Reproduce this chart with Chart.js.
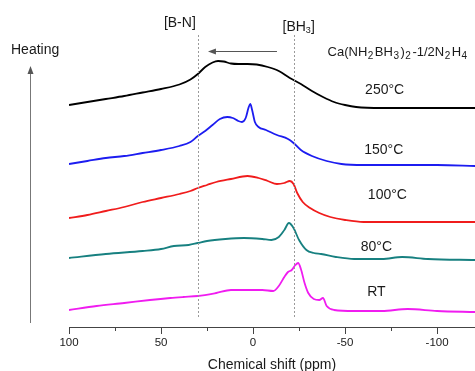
<!DOCTYPE html>
<html>
<head>
<meta charset="utf-8">
<script src="https://cdn.jsdelivr.net/npm/chart.js@4.4.0/dist/chart.umd.min.js"></script>
<style>
  html, body { margin: 0; padding: 0; background: #fff; }
</style>
</head>
<body>
<canvas id="nmrChart" width="475" height="371"></canvas>
<script>
// chemical shift (ppm) sample points and intensities (arbitrary units, stacked)
const shift250 = [100, 90, 80, 70, 60, 50, 40, 34, 30, 26, 22, 19, 16, 12, 8, 3, -2, -8, -14, -20, -26, -32, -38, -44, -50, -56, -70, -90, -121];
const int250   = [222, 225, 228, 231, 234.5, 238, 242.5, 247.5, 253, 260, 264.5, 266, 265.5, 263.5, 263, 263, 262.5, 260, 256, 249, 243, 236, 230, 225, 222, 220, 219, 219, 219];

const shift150 = [100, 90, 80, 70, 60, 50, 40, 34, 30, 26, 22, 18, 14, 11, 8, 6, 4, 2.5, 1.5, 0.5, -1, -3, -7, -13, -19, -22, -26, -32, -40, -48, -60, -80, -100, -121];
const int150   = [163, 166, 169, 171, 174, 177, 181, 185, 191, 196, 202, 208, 210, 209, 206, 205, 209, 219, 223, 217, 205, 200, 197, 192, 188, 184, 177, 171, 166, 163, 162, 162, 162, 161];

const shift100 = [100, 90, 80, 70, 60, 50, 40, 34, 30, 25, 20, 12, 3, -3, -8, -13, -17, -20, -22, -24, -27, -31, -36, -42, -50, -60, -121];
const int100   = [109, 112, 116, 120, 125, 129, 133, 136, 139, 142, 145, 148, 151, 149, 146, 143, 144, 146, 143, 134, 125, 119, 114, 110, 107, 105, 105];

const shift80 = [100, 80, 60, 50, 43, 35, 30, 25, 15, 5, -5, -10, -14, -17, -19.5, -22, -25, -29, -33, -37, -45, -55, -70, -81, -95, -121];
const int80   = [69, 73, 76, 78, 81, 82, 84, 86, 88, 89, 88, 87, 90, 97, 104, 99, 87, 77, 74, 73, 70, 68, 68, 70, 68, 67];

const shiftRT = [100, 85, 70, 56, 45, 38, 30, 20, 12, 5, -5, -11, -14, -17, -19, -21, -23, -24.5, -26, -28, -30, -33, -36, -38, -40, -44, -55, -70, -84, -100, -121];
const intRT   = [17, 21, 24, 27, 29, 30, 31, 34, 37, 37, 37, 36, 41, 50, 55, 57, 62, 64, 58, 44, 34, 28, 27, 29, 21, 17, 16, 16, 18, 16, 15];

const seriesNames  = ['250°C', '150°C', '100°C', '80°C', 'RT'];
const seriesColors = ['#000000', '#1c1cf0', '#f01c1c', '#178080', '#f01cf0'];
// where each temperature label sits (ppm, intensity)
const labelShift = [-71.5, -71, -73, -67, -67];
const labelInt   = [237, 177, 132, 80, 35];

const xTicks = [100, 75, 50, 25, 0, -25, -50, -75, -100];
const dashedShifts = [30, -22];
const arrowShifts = [-13, 24.5];

const shifts = [shift250, shift150, shift100, shift80, shiftRT];
const ints = [int250, int150, int100, int80, intRT];

const FONT = '"Liberation Sans", Arial, sans-serif';

const datasets = seriesNames.map((name, i) => ({
    label: name,
    data: shifts[i].map((x, j) => ({ x: x, y: ints[i][j] })),
    borderColor: seriesColors[i],
    borderWidth: 1.8,
    pointRadius: 0,
    cubicInterpolationMode: 'monotone',
    fill: false
}));

function drawSubText(ctx, parts, x, y) {
    // parts: [text, isSub]
    let cx = x;
    parts.forEach(p => {
        if (p[1]) {
            ctx.font = '10px ' + FONT;
            cx += 0.5;
            ctx.fillText(p[0], cx, y + 4);
            cx += ctx.measureText(p[0]).width + 1.5;
        } else {
            ctx.font = '13px ' + FONT;
            ctx.fillText(p[0], cx, y);
            cx += ctx.measureText(p[0]).width;
        }
    });
}

const annotations = {
    id: 'annotations',
    afterDraw(chart) {
        const ctx = chart.ctx;
        const xs = chart.scales.x;
        const ys = chart.scales.y;
        const area = chart.chartArea;
        ctx.save();

        // dashed marker lines
        ctx.strokeStyle = '#9a9a9a';
        ctx.lineWidth = 1;
        ctx.setLineDash([2, 2]);
        dashedShifts.forEach(s => {
            const px = Math.round(xs.getPixelForValue(s)) + 0.5;
            ctx.beginPath();
            ctx.moveTo(px, area.top + 35);
            ctx.lineTo(px, area.bottom - 9);
            ctx.stroke();
        });
        ctx.setLineDash([]);

        // minor / major ticks
        ctx.strokeStyle = '#444';
        ctx.lineWidth = 1;
        xTicks.forEach(t => {
            const px = Math.round(xs.getPixelForValue(t)) + 0.5;
            ctx.beginPath();
            ctx.moveTo(px, area.bottom);
            ctx.lineTo(px, area.bottom + (t % 50 === 0 ? 7 : 4));
            ctx.stroke();
        });

        ctx.fillStyle = '#1a1a1a';
        ctx.textBaseline = 'middle';
        ctx.textAlign = 'center';
        ctx.font = '14px ' + FONT;
        ctx.fillText('[B-N]', xs.getPixelForValue(dashedShifts[0]) - 18, area.top + 23);

        // [BH3]
        ctx.textAlign = 'left';
        const bhX = xs.getPixelForValue(dashedShifts[1]) - 11;
        ctx.font = '14px ' + FONT;
        ctx.fillText('[BH', bhX, area.top + 27);
        let w = ctx.measureText('[BH').width;
        ctx.font = '9px ' + FONT;
        ctx.fillText('3', bhX + w, area.top + 31);
        w += ctx.measureText('3').width;
        ctx.font = '14px ' + FONT;
        ctx.fillText(']', bhX + w, area.top + 27);

        // horizontal arrow
        ctx.strokeStyle = '#555';
        ctx.fillStyle = '#555';
        const ax1 = xs.getPixelForValue(arrowShifts[0]);
        const ax2 = xs.getPixelForValue(arrowShifts[1]);
        const ay = area.top + 51.5;
        ctx.beginPath();
        ctx.moveTo(ax1, ay);
        ctx.lineTo(ax2 + 6, ay);
        ctx.stroke();
        ctx.beginPath();
        ctx.moveTo(ax2, ay);
        ctx.lineTo(ax2 + 8, ay - 3);
        ctx.lineTo(ax2 + 8, ay + 3);
        ctx.closePath();
        ctx.fill();

        // Heating arrow on the left
        const hx = 30.5;
        ctx.strokeStyle = '#777';
        ctx.fillStyle = '#555';
        ctx.beginPath();
        ctx.moveTo(hx, area.bottom - 4);
        ctx.lineTo(hx, area.top + 71);
        ctx.stroke();
        ctx.beginPath();
        ctx.moveTo(hx, area.top + 66);
        ctx.lineTo(hx - 3, area.top + 74);
        ctx.lineTo(hx + 3, area.top + 74);
        ctx.closePath();
        ctx.fill();

        ctx.fillStyle = '#1a1a1a';
        ctx.textAlign = 'left';
        ctx.font = '14px ' + FONT;
        ctx.fillText('Heating', 11, area.top + 50);

        // compound formula
        drawSubText(ctx, [['Ca(NH', 0], ['2', 1], ['BH', 0], ['3', 1], [')', 0], ['2', 1], ['-1/2N', 0], ['2', 1], ['H', 0], ['4', 1]],
            xs.getPixelForValue(-40.5), area.top + 52);

        // temperature labels
        ctx.textAlign = 'center';
        ctx.font = '14px ' + FONT;
        seriesNames.forEach((name, i) => {
            ctx.fillText(name, xs.getPixelForValue(labelShift[i]), ys.getPixelForValue(labelInt[i]));
        });

        ctx.restore();
    }
};

new Chart(document.getElementById('nmrChart'), {
    type: 'line',
    data: { datasets: datasets },
    options: {
        responsive: false,
        animation: false,
        layout: { padding: { left: 69, right: 0, top: 0, bottom: 0 } },
        plugins: {
            legend: { display: false },
            tooltip: { enabled: false }
        },
        scales: {
            x: {
                type: 'linear',
                reverse: true,
                min: -120.6,
                max: 100,
                afterBuildTicks: scale => {
                    scale.ticks = xTicks.map(v => ({ value: v }));
                },
                afterFit: scale => { scale.height = 44; },
                ticks: {
                    autoSkip: false,
                    maxRotation: 0,
                    padding: 2,
                    color: '#1a1a1a',
                    font: { family: FONT, size: 11.5 },
                    callback: v => (v % 50 === 0 ? String(v) : '')
                },
                grid: { drawOnChartArea: false, drawTicks: true, tickLength: 7, tickColor: 'rgba(0,0,0,0)' },
                border: { display: true, color: '#444', width: 1 },
                title: {
                    display: true,
                    text: 'Chemical shift (ppm)',
                    color: '#1a1a1a',
                    font: { family: FONT, size: 14 },
                    padding: { top: 0, bottom: -3 }
                }
            },
            y: {
                display: false,
                min: 0,
                max: 327
            }
        }
    },
    plugins: [annotations]
});
</script>
</body>
</html>
